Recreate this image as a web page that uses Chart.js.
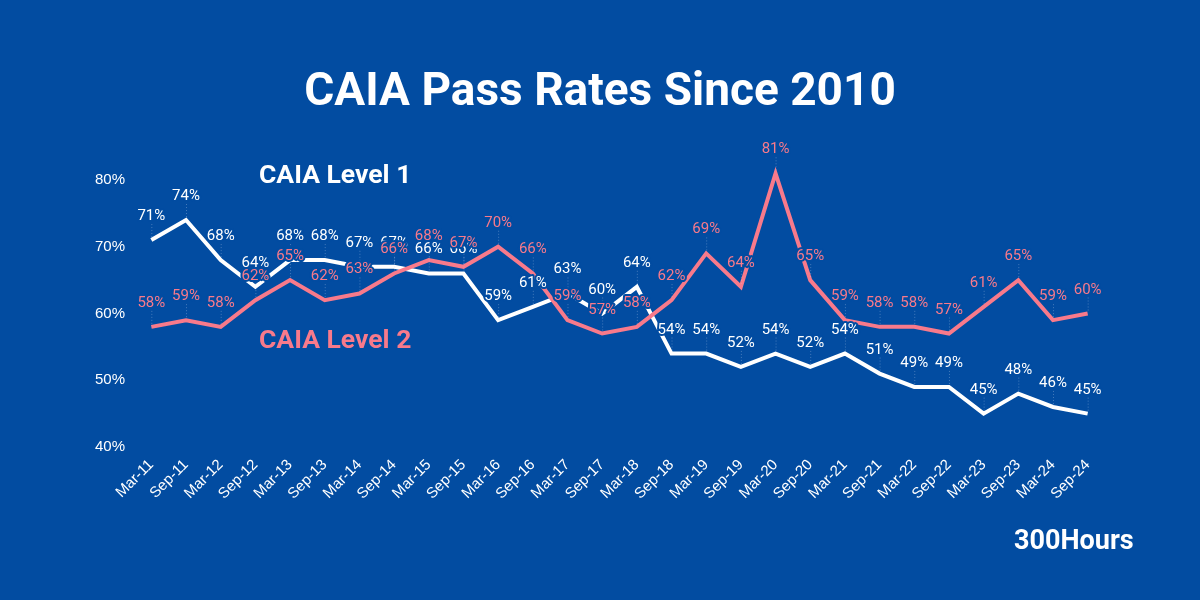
<!DOCTYPE html>
<html>
<head>
<meta charset="utf-8">
<script src="https://cdn.jsdelivr.net/npm/chart.js@4.4.1/dist/chart.umd.min.js"></script>
<style>
  html, body { margin:0; padding:0; background:#024CA1; }
  #wrap { position:relative; width:1200px; height:600px; background:#024CA1; overflow:hidden; }
  #c { position:absolute; left:0; top:0; }
  .t { position:absolute; font-family:Roboto, "Open Sans", sans-serif; font-weight:700; white-space:nowrap; line-height:1; }
  #title { left:0; width:1200px; text-align:center; top:66px; font-size:46px; color:#fff; }
  #l1 { left:259px; top:161px; font-size:26.5px; color:#fff; }
  #l2 { left:259px; top:326px; font-size:26.5px; color:#F87A8B; }
  #brand { left:1014px; top:527px; font-size:27px; color:#fff; }
</style>
</head>
<body>
<div id="wrap">
  <canvas id="c" width="1200" height="600"></canvas>
  <div class="t" id="title">CAIA Pass Rates Since 2010</div>
  <div class="t" id="l1">CAIA Level 1</div>
  <div class="t" id="l2">CAIA Level 2</div>
  <div class="t" id="brand">300Hours</div>
</div>
<script>
const categories = ["Mar-11","Sep-11","Mar-12","Sep-12","Mar-13","Sep-13","Mar-14","Sep-14","Mar-15","Sep-15","Mar-16","Sep-16","Mar-17","Sep-17","Mar-18","Sep-18","Mar-19","Sep-19","Mar-20","Sep-20","Mar-21","Sep-21","Mar-22","Sep-22","Mar-23","Sep-23","Mar-24","Sep-24"];
const level1 = [71,74,68,64,68,68,67,67,66,66,59,61,63,60,64,54,54,52,54,52,54,51,49,49,45,48,46,45];
const level2 = [58,59,58,62,65,62,63,66,68,67,70,66,59,57,58,62,69,64,81,65,59,58,58,57,61,65,59,60];
const yTicks = [40,50,60,70,80];

const BG = '#024CA1';
const WHITE = '#FFFFFF';
const PINK = '#F87A8B';

const pointLabels = {
  id: 'pointLabels',
  afterDatasetsDraw(chart) {
    const ctx = chart.ctx;
    [0,1].forEach(i => {
      const ds = chart.data.datasets[i];
      const meta = chart.getDatasetMeta(i);
      meta.data.forEach((pt, j) => {
        const x = pt.x, y = pt.y;
        const txt = ds.data[j] + '%';
        ctx.save();
        ctx.strokeStyle = 'rgba(200,215,240,0.35)';
        ctx.lineWidth = 1;
        ctx.setLineDash([1,2]);
        ctx.beginPath();
        ctx.moveTo(x + 0.5, y - 3);
        ctx.lineTo(x + 0.5, y - 18);
        ctx.stroke();
        ctx.setLineDash([]);
        ctx.font = '15px Roboto, "Open Sans", sans-serif';
        ctx.textAlign = 'center';
        ctx.textBaseline = 'alphabetic';
        ctx.lineJoin = 'round';
        ctx.strokeStyle = BG;
        ctx.lineWidth = 4;
        ctx.strokeText(txt, x, y - 20);
        ctx.fillStyle = ds.borderColor;
        ctx.fillText(txt, x, y - 20);
        ctx.restore();
      });
    });
  }
};

new Chart(document.getElementById('c'), {
  type: 'line',
  data: {
    labels: categories,
    datasets: [
      { label: 'CAIA Level 1', data: level1, borderColor: WHITE, backgroundColor: WHITE, borderWidth: 4, pointRadius: 0, tension: 0, clip: false, order: 2 },
      { label: 'CAIA Level 2', data: level2, borderColor: PINK, backgroundColor: PINK, borderWidth: 4, pointRadius: 0, tension: 0, clip: false, order: 1 }
    ]
  },
  options: {
    responsive: false,
    animation: false,
    devicePixelRatio: 1,
    layout: { padding: { left: 94, right: 95, top: 180, bottom: 83 } },
    plugins: { legend: { display: false }, tooltip: { enabled: false }, title: { display: false } },
    scales: {
      x: {
        type: 'category',
        offset: true,
        grid: { display: false, drawTicks: false },
        border: { display: false },
        ticks: { color: WHITE, autoSkip: false, minRotation: 45, maxRotation: 45, padding: 9, font: { family: '"Liberation Sans", Arial, sans-serif', size: 15 } },
        afterFit(s) { s.height = 70; }
      },
      y: {
        min: 40, max: 80,
        grid: { display: false, drawTicks: false },
        border: { display: false },
        afterBuildTicks(s) { s.ticks = yTicks.map(v => ({ value: v })); },
        ticks: { color: WHITE, padding: 9, font: { family: '"Liberation Sans", Arial, sans-serif', size: 15 }, callback: v => v + '%' },
        afterFit(s) { s.width = 40; }
      }
    }
  },
  plugins: [pointLabels]
});
</script>
</body>
</html>
